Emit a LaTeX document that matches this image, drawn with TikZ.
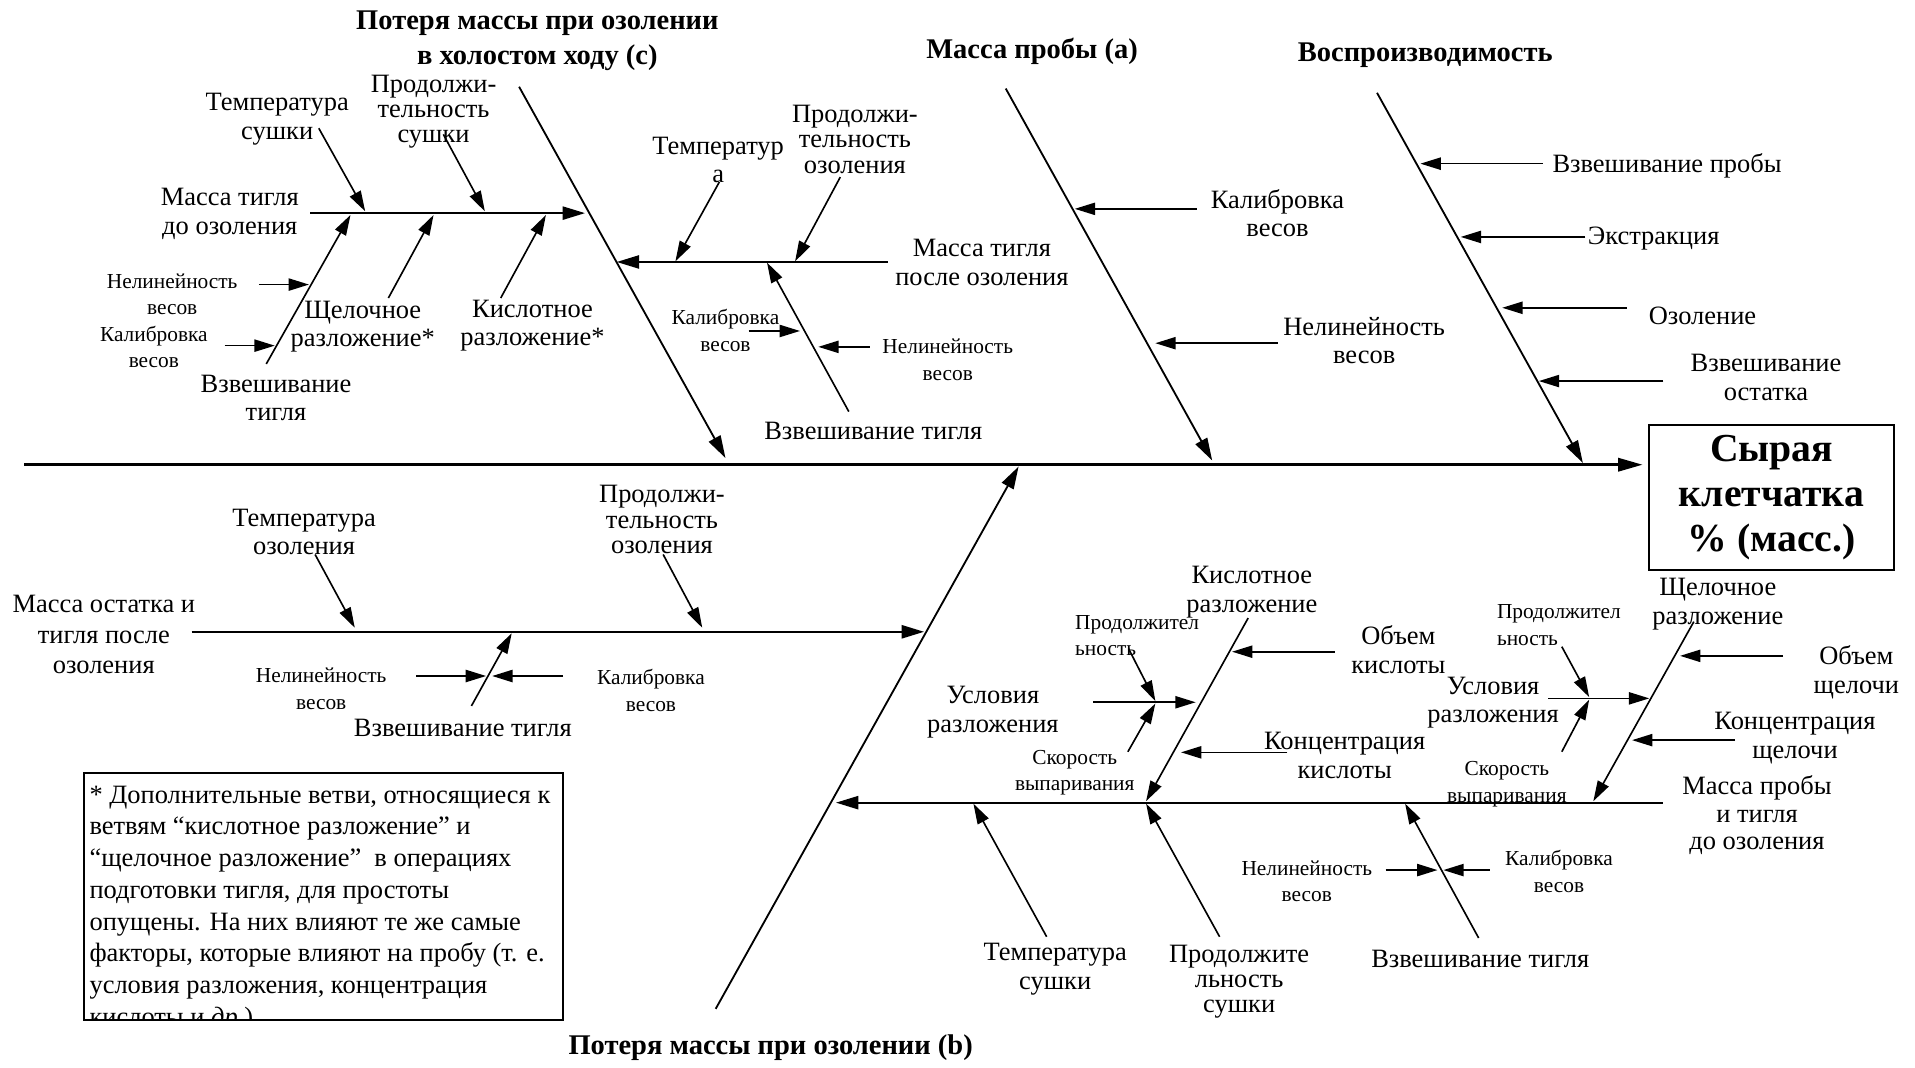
\documentclass[tikz,border=0pt]{standalone}
\usepackage{fontspec}
\setmainfont{Liberation Serif}
\usetikzlibrary{arrows.meta}

\begin{document}
\begin{tikzpicture}[x=0.6pt, y=-0.6pt,
  every node/.style={inner sep=0pt, align=center},
  lbl/.style={font=\fontsize{13}{14}\selectfont},
  tight/.style={font=\fontsize{13}{12.4}\selectfont},
  sml/.style={font=\fontsize{10.5}{13}\selectfont},
  hdr/.style={font=\fontsize{14}{17}\selectfont\bfseries},
  spine/.style={line width=1.3pt, -{Triangle[length=12pt,width=6.5pt]}},
  bone/.style={line width=0.9pt, -{Triangle[length=11pt,width=6.5pt]}},
  twig/.style={line width=0.8pt, -{Triangle[length=10pt,width=6pt]}}
]
\useasboundingbox (0,0) rectangle (1568,874);

% effect box and spine
\node[draw, line width=1.1pt, minimum width=120.6pt, minimum height=71.4pt,
  font=\fontsize{19.5}{22}\selectfont\bfseries] (res) at (1450.5,407.5) {Сырая\\клетчатка\\\% (масс.)};
\coordinate (sp0) at (20,380.5);
\draw[spine] (sp0) -- ([xshift=-2.5pt]sp0 -| res.west);

% main bones
\node[hdr] (ttlC) at (440,33.5) {Потеря массы при озолении\\в холостом ходу (c)};
\node[hdr] (ttlA) at (845,42) {Масса пробы (a)};
\node[hdr] (ttlR) at (1167,45) {Воспроизводимость};
\node[hdr] (ttlB) at (631,858) {Потеря массы при озолении (b)};
\coordinate (c0) at (425,71);     \coordinate (c1) at (594,375);
\coordinate (a0) at (823.5,72.5); \coordinate (a1) at (992.5,377);
\coordinate (r0) at (1127.5,76);  \coordinate (r1) at (1296,379);
\coordinate (b0) at (586,826);    \coordinate (b1) at (834,382);
\draw[bone] (c0) -- (c1);
\draw[bone] (a0) -- (a1);
\draw[bone] (r0) -- (r1);
\draw[bone] (b0) -- (b1);

% bone c: crucible before ashing
\node[lbl, anchor=east] (mtdo) at (245,175) {Масса тигля\\до озоления};
\coordinate (c2s) at (254,174.5); \coordinate (c2e) at (479,174.5);
\draw[bone] (c2s) -- (c2e);
\node[lbl] (ts1) at (227,97.5) {Температура\\сушки};
\node[tight] (ps1) at (355,91.5) {Продолжи-\\тельность\\сушки};
\node[lbl] (sr1) at (297,267.5) {Щелочное\\разложение*};
\node[lbl] (kr1) at (436,266.5) {Кислотное\\разложение*};
\node[lbl] (vt1) at (226,326) {Взвешивание\\тигля};
\node[sml] (nv1) at (141,241) {Нелинейность\\весов};
\node[sml] (kv1) at (126,284) {Калибровка\\весов};
\coordinate (ts1a) at (261,105); \coordinate (ts1b) at (299,173);
\coordinate (ps1a) at (363,110); \coordinate (ps1b) at (397,173);
\coordinate (sr1a) at (318,244); \coordinate (sr1b) at (355,176);
\coordinate (kr1a) at (410,244); \coordinate (kr1b) at (447,176);
\coordinate (vt1a) at (218,298); \coordinate (vt1b) at (287,176);
\coordinate (nv1a) at (212,233); \coordinate (nv1b) at (253,233);
\coordinate (kv1a) at (184,283); \coordinate (kv1b) at (225,283);
\draw[twig] (ts1a) -- (ts1b);
\draw[twig] (ps1a) -- (ps1b);
\draw[twig] (sr1a) -- (sr1b);
\draw[twig] (kr1a) -- (kr1b);
\draw[twig] (vt1a) -- (vt1b);
\draw[twig] (nv1a) -- (nv1b);
\draw[twig] (kv1a) -- (kv1b);

% bone c: crucible after ashing
\node[lbl] (mtpo) at (804,215) {Масса тигля\\после озоления};
\coordinate (c3s) at (727,214.5); \coordinate (c3e) at (505,214.5);
\draw[bone] (c3s) -- (c3e);
\node[lbl] (to1) at (588,131) {Температур\\а};
\node[tight] (po1) at (700,114) {Продолжи-\\тельность\\озоления};
\node[lbl] (vt2) at (715,353) {Взвешивание тигля};
\node[sml] (kv2) at (594,270.5) {Калибровка\\весов};
\node[sml] (nv2) at (776,294.5) {Нелинейность\\весов};
\coordinate (to1a) at (589,149); \coordinate (to1b) at (553,214);
\coordinate (po1a) at (688,145); \coordinate (po1b) at (651,214);
\coordinate (vt2a) at (695,337); \coordinate (vt2b) at (628,215);
\coordinate (kv2a) at (613,271); \coordinate (kv2b) at (655,271);
\coordinate (nv2a) at (712,284); \coordinate (nv2b) at (670,284);
\draw[twig] (to1a) -- (to1b);
\draw[twig] (po1a) -- (po1b);
\draw[twig] (vt2a) -- (vt2b);
\draw[twig] (kv2a) -- (kv2b);
\draw[twig] (nv2a) -- (nv2b);

% bone a
\node[lbl] (kv3) at (1046,174.5) {Калибровка\\весов};
\node[lbl] (nv3) at (1117,279) {Нелинейность\\весов};
\coordinate (kv3a) at (980,171); \coordinate (kv3b) at (880,171);
\coordinate (nv3a) at (1046,281); \coordinate (nv3b) at (946,281);
\draw[twig] (kv3a) -- (kv3b);
\draw[twig] (nv3a) -- (nv3b);

% bone r
\node[lbl] (vp) at (1365,136) {Взвешивание пробы};
\node[lbl] (ex) at (1354,195.5) {Экстракция};
\node[lbl] (oz) at (1394,258.5) {Озоление};
\node[lbl] (vo) at (1446,309) {Взвешивание\\остатка};
\coordinate (vpa) at (1263,134); \coordinate (vpb) at (1163,134);
\coordinate (exa) at (1298,194); \coordinate (exb) at (1196,194);
\coordinate (oza) at (1332,252); \coordinate (ozb) at (1230,252);
\coordinate (voa) at (1362,312); \coordinate (vob) at (1260,312);
\draw[twig] (vpa) -- (vpb);
\draw[twig] (exa) -- (exb);
\draw[twig] (oza) -- (ozb);
\draw[twig] (voa) -- (vob);

% bone b: residue and crucible after ashing
\node[lbl, font=\fontsize{13}{15.2}\selectfont] (mot) at (85,519.5) {Масса остатка и\\тигля после\\озоления};
\coordinate (b2s) at (157,517.3); \coordinate (b2e) at (756.6,517.3);
\draw[bone] (b2s) -- (b2e);
\node[lbl] (to2) at (249,435.5) {Температура\\озоления};
\node[tight] (po2) at (542,425.5) {Продолжи-\\тельность\\озоления};
\node[lbl] (vt3) at (379,596) {Взвешивание тигля};
\node[sml] (nv4) at (263,564) {Нелинейность\\весов};
\node[sml] (kv4) at (533,565.5) {Калибровка\\весов};
\coordinate (to2a) at (258,454); \coordinate (to2b) at (290.5,514);
\coordinate (po2a) at (543,454); \coordinate (po2b) at (575,514);
\coordinate (vt3a) at (386,578); \coordinate (vt3b) at (419,518.5);
\coordinate (nv4a) at (341,553.5); \coordinate (nv4b) at (398,553.5);
\coordinate (kv4a) at (461,553.5); \coordinate (kv4b) at (403,553.5);
\draw[twig] (to2a) -- (to2b);
\draw[twig] (po2a) -- (po2b);
\draw[twig] (vt3a) -- (vt3b);
\draw[twig] (nv4a) -- (nv4b);
\draw[twig] (kv4a) -- (kv4b);

% note
\coordinate (nb1) at (69,633); \coordinate (nb2) at (461,835);
\begin{scope}
\clip (nb1) rectangle (nb2);
\node[lbl, align=left, anchor=north west, font=\fontsize{13}{15.6}\selectfont] (note) at (73,643)
  {* Дополнительные ветви, относящиеся к\\
   ветвям “кислотное разложение” и\\
   “щелочное разложение”~ в операциях\\
   подготовки тигля, для простоты\\
   опущены. На них влияют те же самые\\
   факторы, которые влияют на пробу (т. е.\\
   условия разложения, концентрация\\
   кислоты и \textit{др}.)};
\end{scope}
\draw[line width=0.9pt] (nb1) rectangle (nb2);

% bone b: sample and crucible before ashing
\node[lbl, font=\fontsize{13}{13.6}\selectfont] (mpt) at (1438.6,667.5) {Масса пробы\\и тигля\\до озоления};
\coordinate (b3s) at (1361.6,657.2); \coordinate (b3e) at (684.5,657.2);
\draw[bone] (b3s) -- (b3e);
\node[lbl] (ts2) at (864,793.5) {Температура\\сушки};
\node[tight] (ps2) at (1014.6,804) {Продолжите\\льность\\сушки};
\node[lbl] (vt4) at (1212,785) {Взвешивание тигля};
\node[sml] (nv5) at (1070,721.5) {Нелинейность\\весов};
\node[sml] (kv5) at (1276.5,713.5) {Калибровка\\весов};
\coordinate (ts2a) at (857,767);    \coordinate (ts2b) at (797,658);
\coordinate (ps2a) at (998.6,767);  \coordinate (ps2b) at (938.4,658);
\coordinate (vt4a) at (1210.7,768); \coordinate (vt4b) at (1150.5,658);
\coordinate (nv5a) at (1134.6,712.4); \coordinate (nv5b) at (1177,712.4);
\coordinate (kv5a) at (1219.8,712.4); \coordinate (kv5b) at (1181.8,712.4);
\draw[twig] (ts2a) -- (ts2b);
\draw[twig] (ps2a) -- (ps2b);
\draw[twig] (vt4a) -- (vt4b);
\draw[twig] (nv5a) -- (nv5b);
\draw[twig] (kv5a) -- (kv5b);

% acid digestion
\node[lbl] (krz) at (1025,485) {Кислотное\\разложение};
\coordinate (k0) at (1022,506); \coordinate (k1) at (938.4,656);
\draw[twig] (k0) -- (k1);
\node[lbl] (ok) at (1145,532) {Объем\\кислоты};
\node[lbl] (kk) at (1101,618.5) {Концентрация\\кислоты};
\node[lbl] (ur1) at (813,583) {Условия\\разложения};
\node[sml, align=left, anchor=west] (pr1) at (880,520.5) {Продолжител\\ьность};
\node[sml] (sv1) at (880,632.5) {Скорость\\выпаривания};
\coordinate (oka) at (1093,533.6); \coordinate (okb) at (1008.8,533.6);
\coordinate (kka) at (1054,616);   \coordinate (kkb) at (967,616);
\coordinate (ur1a) at (895,575);   \coordinate (ur1b) at (979,575);
\coordinate (ur1j) at (946,575);
\coordinate (pr1a) at (924,531);   \coordinate (sv1a) at (923.5,615.5);
\draw[twig] (oka) -- (okb);
\draw[twig] (kka) -- (kkb);
\draw[twig] (ur1a) -- (ur1b);
\draw[twig] (pr1a) -- ([yshift=0.6pt]ur1j);
\draw[twig] (sv1a) -- ([yshift=-0.6pt]ur1j);

% alkaline digestion
\node[lbl] (shr) at (1406.5,494.5) {Щелочное\\разложение};
\coordinate (s0) at (1386.9,509); \coordinate (s1) at (1304.6,656);
\draw[twig] (s0) -- (s1);
\node[lbl] (osh) at (1520,550.5) {Объем\\щелочи};
\node[lbl] (ksh) at (1469.7,604.5) {Концентрация\\щелочи};
\node[lbl] (ur2) at (1222.5,575.5) {Условия\\разложения};
\node[sml, align=left, anchor=west] (pr2) at (1225.4,512) {Продолжител\\ьность};
\node[sml] (sv2) at (1233.8,642) {Скорость\\выпаривания};
\coordinate (osha) at (1460,537);    \coordinate (oshb) at (1375.6,537);
\coordinate (ksha) at (1420.6,606);  \coordinate (kshb) at (1336.3,606);
\coordinate (ur2a) at (1267.5,571.8); \coordinate (ur2b) at (1350.4,571.8);
\coordinate (ur2j) at (1301.2,571.8);
\coordinate (pr2a) at (1278.8,529.5); \coordinate (sv2a) at (1278.8,615.5);
\draw[twig] (osha) -- (oshb);
\draw[twig] (ksha) -- (kshb);
\draw[twig] (ur2a) -- (ur2b);
\draw[twig] (pr2a) -- ([yshift=0.6pt]ur2j);
\draw[twig] (sv2a) -- ([yshift=-0.6pt]ur2j);
\end{tikzpicture}
\end{document}
